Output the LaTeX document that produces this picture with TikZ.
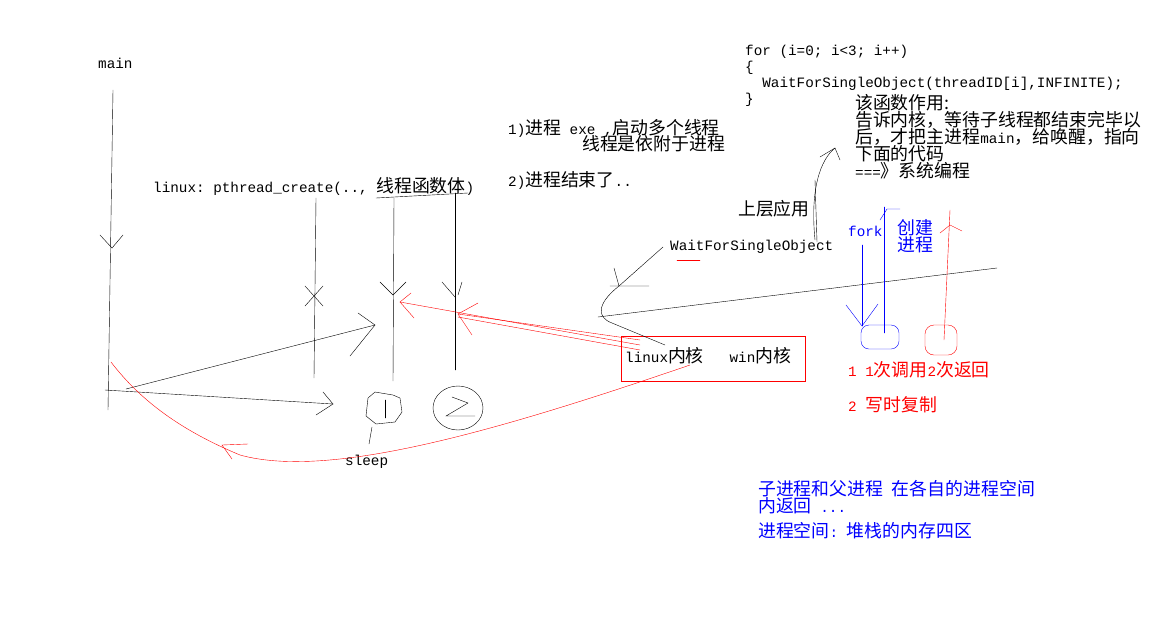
\documentclass[tikz,border=0pt]{standalone}
\usepackage{fontspec}
\setmainfont[Scale=1.25]{Noto Sans CJK SC}
\setmonofont{Liberation Mono}
\usepackage{tikz}
\usetikzlibrary{positioning}
\definecolor{pblue}{RGB}{0,0,255}
\definecolor{pred}{RGB}{255,0,0}
\newcommand\lt[1]{{\ttfamily #1}}
\tikzset{txt/.style={anchor=west,inner sep=0pt,font=\fontsize{14.3}{17}\selectfont}}
\begin{document}
\begin{tikzpicture}[x=1pt,y=-1pt,thin,line cap=round]
\useasboundingbox[fill=white] (0,0) rectangle (1161,630);

%main Faden
\node[txt] (main) at (98,63) {\lt{main}};
\draw (113,90) -- (108,410);
\draw (100,235) -- (112,248) -- (123,235);
\draw (105,390) -- (333,404);
\draw (323,392) -- (333,404) -- (316,415);
\draw (126,389) -- (375,325);
\draw (358,313) -- (375,325) -- (350,356);

%Threads
\node[txt] (create) at (153,186) {\lt{linux: pthread\_create(.., }线程函数体\lt{)}};
\draw (376,198) -- (468,193);
\draw (316,198) -- (314,378);
\draw (305,286) -- (323,306) (323,286) -- (305,306);
\draw (394,198) -- (393,381);
\draw (380,282) -- (393,295) -- (406,282);
\draw (455,193) -- (455,370);
\draw (442,282) -- (455,297) (462,282) -- (458,295);
\draw (375,392) -- (368,398) -- (366,416) -- (376,424) -- (395,422) -- (402,412) -- (400,398) -- (393,395) -- (375,392);
\draw (385,400) -- (385,418);
\draw (458,408) ellipse (25 and 22);
\draw (452,397) -- (468,403) -- (446,416) -- (475,416);
\draw (372,427) -- (369,444);
\node[txt] (sleep) at (345,462) {\lt{sleep}};

%Kernel
\node[draw=pred,minimum width=184,minimum height=45,inner sep=0pt] (kern) at (713,359) {};
\node[txt] (ktext) at (625,356) {\lt{linux}内核\lt{\ \ \ win}内核};
\draw[pred] (640,345) -- (400,302);
\draw[pred] (411,293) -- (400,302) -- (414,318);
\draw[pred] (640,340) -- (458,314) (640,350) -- (458,317);
\draw[pred] (478,303) -- (458,314) -- (472,335);
\draw[pred] (690,365) .. controls (500,430) and (330,480) .. (240,455) .. controls (180,430) and (140,400) .. (111,362);
\draw[pred] (248,444) -- (222,445) -- (232,459);

%WaitForSingleObject
\node[txt] (wfso) at (670,247) {\lt{WaitForSingleObject}};
\draw[pred] (677,260) -- (700,260);
\draw (598,317) -- (997,268);
\draw (663,247) -- (619,286) .. controls (595,305) and (598,318) .. (612,323) -- (665,345);
\draw (614,268) -- (619,286) (610,286) -- (649,286);
\node[txt] (upper) at (738,209) {上层应用};
\draw (815,180) -- (817,242);
\draw (815,240) .. controls (810,190) and (820,160) .. (835,148);
\draw (820,157) -- (835,148) -- (840,160);

%Code
\node[txt,align=left,anchor=north west,font=\fontsize{14.3}{16}\selectfont] (code) at (745,45) {\lt{for (i=0; i<3; i++)}\\\lt{\{}\\\lt{\ \ WaitForSingleObject(threadID[i],INFINITE);}\\\lt{\}}};
\node[txt,align=left,anchor=north west] (doc) at (855,94) {该函数作用:\\告诉内核，等待子线程都结束完毕以\\后，才把主进程\lt{main}，给唤醒，指向\\下面的代码\\\lt{===}》系统编程};
\node[txt] (p1) at (508,128) {\lt{1)}进程\lt{ exe ,}启动多个线程};
\node[txt] (p1b) at (582,144) {线程是依附于进程};
\node[txt] (p2) at (508,180) {\lt{2)}进程结束了\lt{..}};

%fork
\node[txt,text=pblue] (fork) at (848,231) {\lt{fork}};
\node[txt,text=pblue,align=left,anchor=north west,font=\fontsize{14.3}{15}\selectfont] (cr) at (897,219) {创建\\进程};
\draw[pblue] (862,245) -- (862,326);
\draw[pblue] (846,305) -- (862,326) -- (878,304);
\draw[pblue] (884,207) -- (884,333);
\draw[pblue] (880,220) -- (887,209) -- (900,209);
\draw[pblue,rounded corners=8] (861,325) rectangle (899,349);
\draw[pred,rounded corners=9] (925,325) rectangle (957,355);
\draw[pred] (950,210) -- (944,340);
\draw[pred] (940,233) -- (950,225) -- (962,231);
\node[txt,text=pred] (r1) at (848,370) {\lt{1 1}次调用\lt{2}次返回};
\node[txt,text=pred] (r2) at (848,405) {\lt{2 }写时复制};
\node[txt,text=pblue,align=left,anchor=north west] (b1) at (758,480) {子进程和父进程\lt{ }在各自的进程空间\\内返回\lt{ ...}\\[8pt]进程空间\lt{: }堆栈的内存四区};
\end{tikzpicture}
\end{document}
